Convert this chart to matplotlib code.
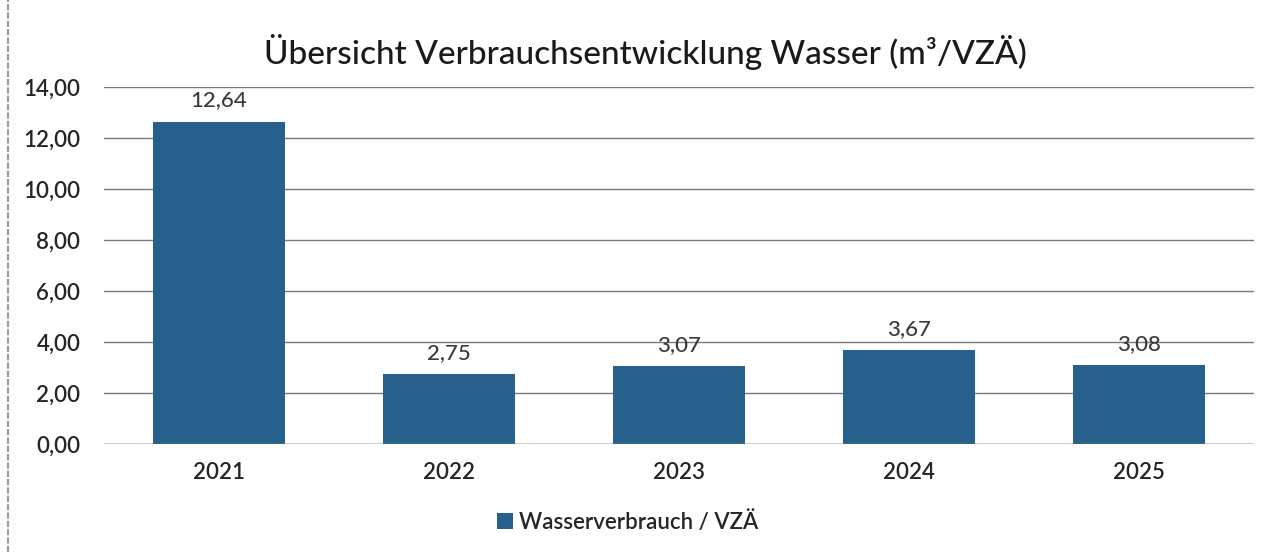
import matplotlib
matplotlib.use("Agg")
import matplotlib.pyplot as plt
from matplotlib.patches import Patch
from matplotlib.lines import Line2D

years = ["2021", "2022", "2023", "2024", "2025"]
values = [12.64, 2.75, 3.07, 3.67, 3.08]
value_labels = ["12,64", "2,75", "3,07", "3,67", "3,08"]
yticks = [0, 2, 4, 6, 8, 10, 12, 14]
ytick_labels = ["0,00", "2,00", "4,00", "6,00", "8,00", "10,00", "12,00", "14,00"]
title = "Übersicht Verbrauchsentwicklung Wasser (m³/VZÄ)"
series_name = "Wasserverbrauch / VZÄ"

plt.rcParams['font.family'] = ['Lato', 'DejaVu Sans']
bar_color = "#27608a"
text_color = "#262626"

W, H = 1282, 552
fig = plt.figure(figsize=(W / 100, H / 100), dpi=100)
ax = fig.add_axes([104 / W, 108 / H, (1254 - 104) / W, (444 - 87) / H])

x = list(range(len(years)))
ax.bar(x, values, width=0.575, color=bar_color, zorder=3)
ax.set_xlim(-0.5, len(years) - 0.5)
ax.set_ylim(0, 14)
ax.set_yticks(yticks)
ax.set_yticklabels(ytick_labels, fontsize=16, color=text_color, fontweight="semibold")
ax.set_xticks(x)
ax.set_xticklabels(years, fontsize=16, color=text_color, fontweight="semibold")
ax.tick_params(axis='both', length=0)
ax.tick_params(axis='y', pad=17)
ax.tick_params(axis='x', pad=13)
ax.yaxis.grid(True, color="#7a7a7a", linewidth=1.0, zorder=0)
for s in ax.spines.values():
    s.set_visible(False)
ax.axhline(0, color="#7a7a7a", linewidth=1.0, zorder=4)

for xi, v, lab in zip(x, values, value_labels):
    ax.annotate(lab, (xi, v), xytext=(0, 8), textcoords="offset points",
                ha="center", va="bottom", fontsize=16, color="#3a3a3a",
                fontweight="medium")

fig.text(645 / W, 1 - 52 / H, title, ha="center", va="center",
         fontsize=24, color="#1a1a1a", fontweight="medium")

handles = [Patch(facecolor=bar_color, edgecolor="none")]
fig.legend(handles, [series_name], loc="center", bbox_to_anchor=(628 / W, 1 - 522 / H),
           frameon=False, fontsize=16, handlelength=0.7, handleheight=0.7,
           handletextpad=0.3, labelcolor=text_color,
           prop={"weight": "semibold", "size": 16})

fig.add_artist(Line2D([8 / W, 8 / W], [0, 1], transform=fig.transFigure,
                      color="#9a9a9a", linewidth=1.5, linestyle=(0, (3, 1))))

fig.savefig("out.png", dpi=100)
